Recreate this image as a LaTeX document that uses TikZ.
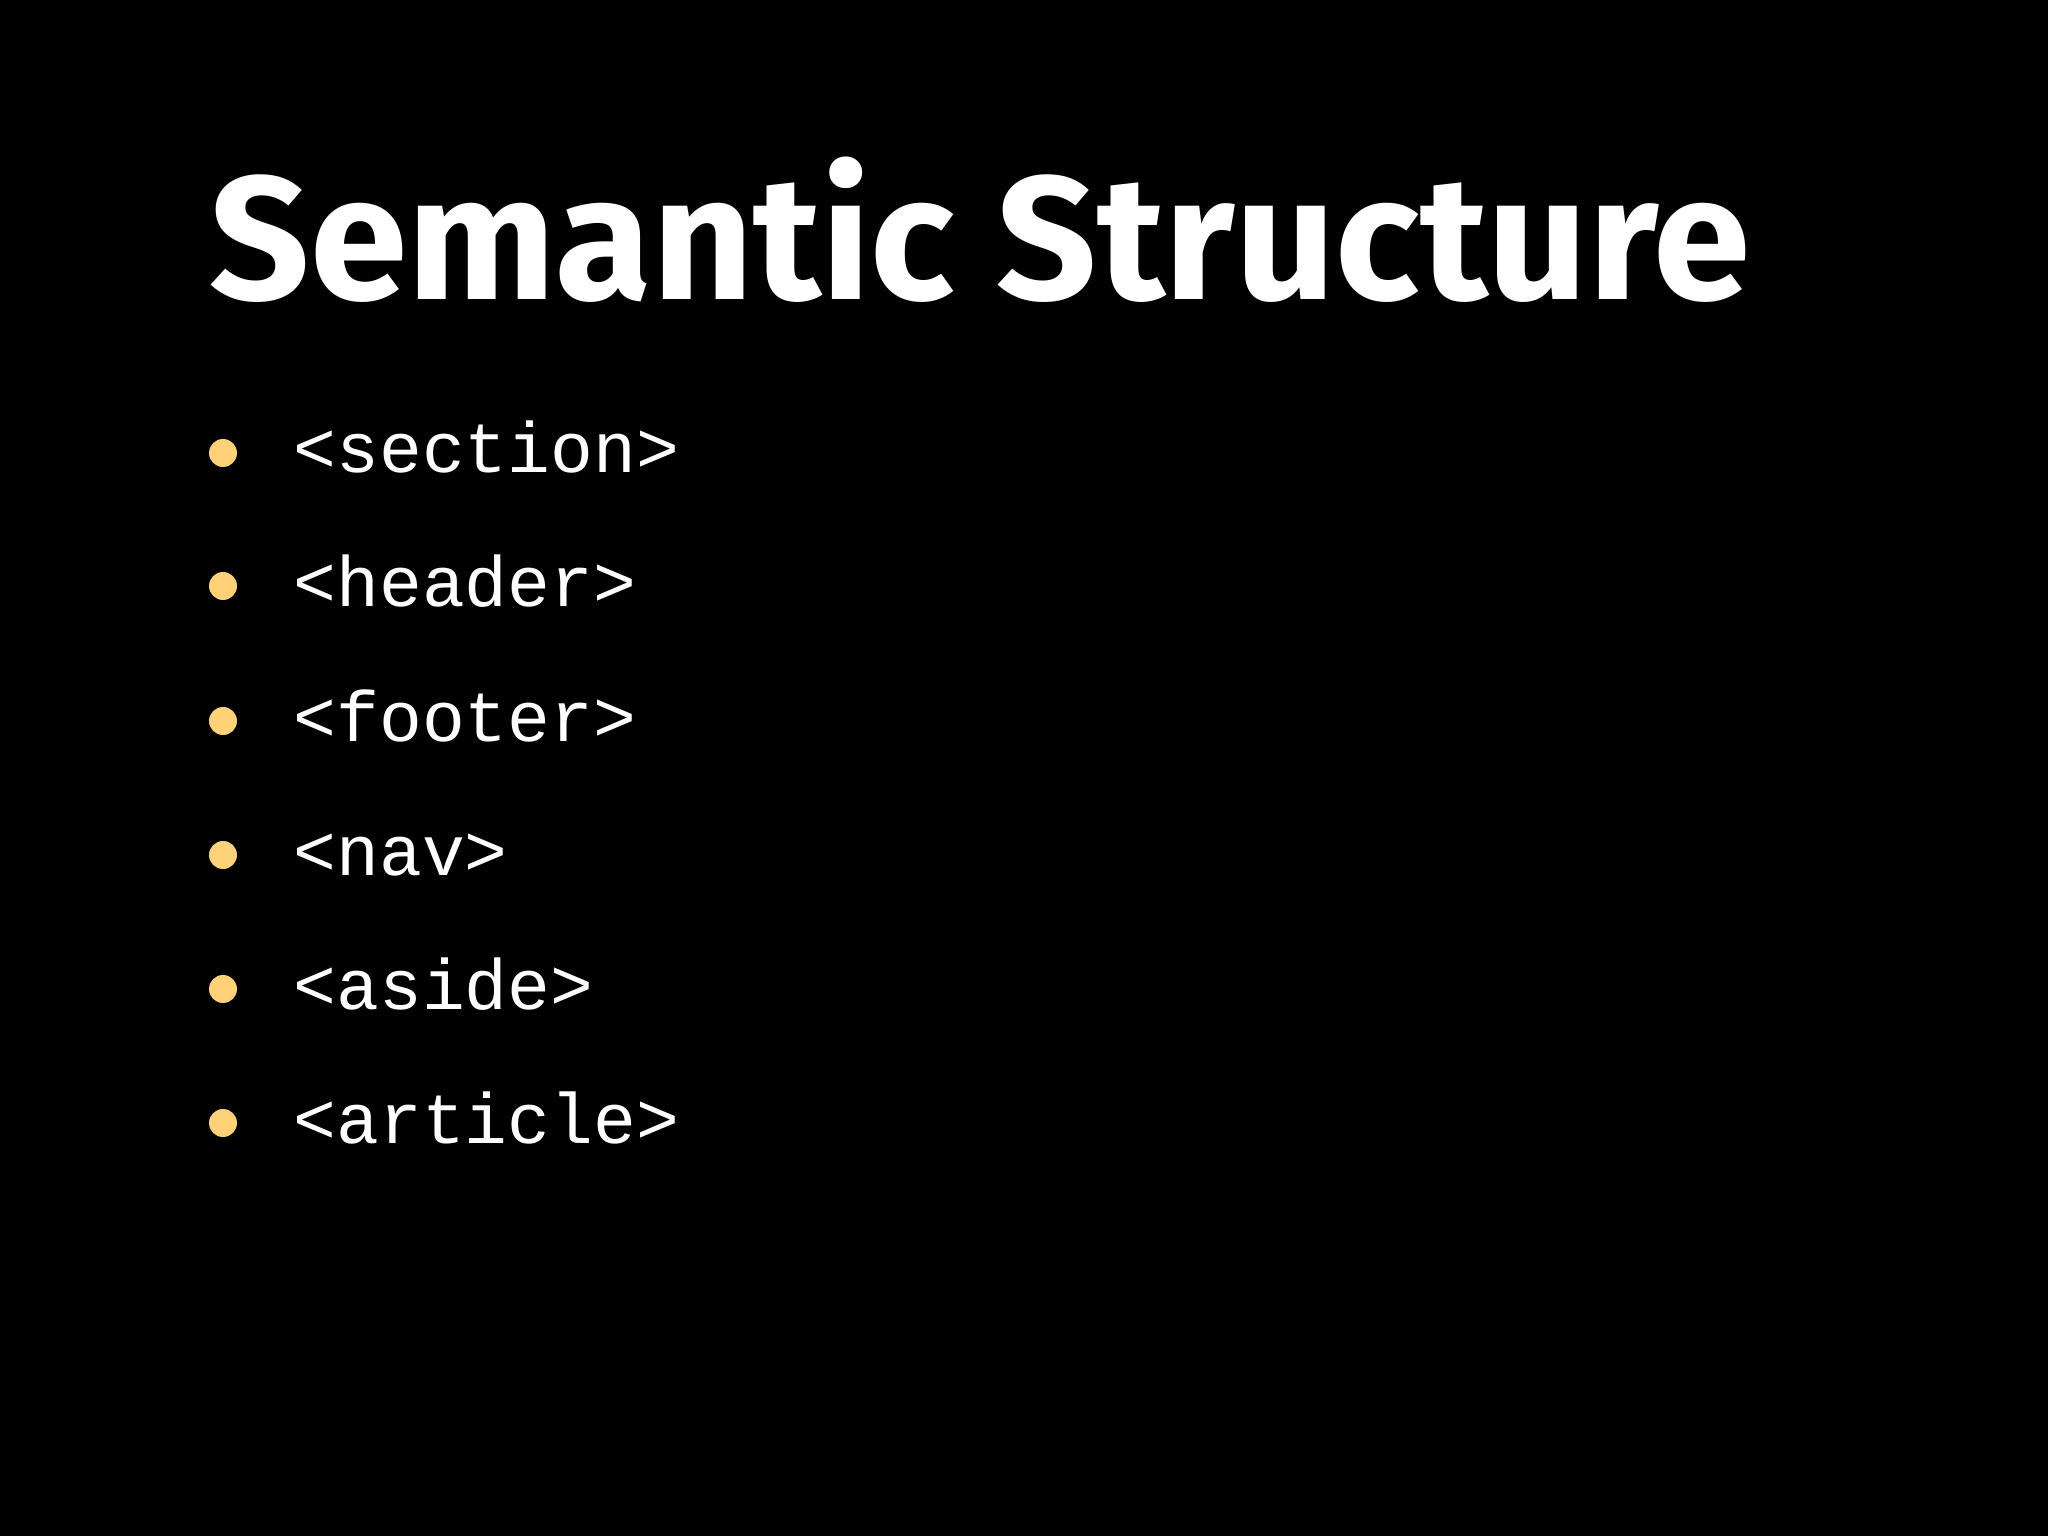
\documentclass[tikz,border=0pt]{standalone}
\usepackage{fontspec}
\setmainfont{Fira Sans}
\newfontfamily\monofont{Liberation Mono}
\definecolor{bul}{HTML}{FFD27A}
\begin{document}
\begin{tikzpicture}[
  item/.style={anchor=base west,text=white,inner sep=0pt,font=\monofont\fontsize{20.3pt}{24pt}\selectfont},
  dot/.style={circle,fill=bul,minimum size=0.28cm,inner sep=0pt}]
\fill[black] (0,0) rectangle (20.48,-15.36);
\useasboundingbox (0,0) rectangle (20.48,-15.36);
\node[anchor=base west,inner sep=0pt,text=white,font=\bfseries\fontsize{50pt}{60pt}\selectfont] (title) at (2.09,-3.00) {Semantic Structure};
\foreach \t/\y [count=\i] in {{<section>}/4.53,{<header>}/5.86,{<footer>}/7.21,{<nav>}/8.55,{<aside>}/9.89,{<article>}/11.23}{
  \node[dot] (b\i) at (2.23,-\y) {};
  \node[item] (t\i) at (2.93,-\y-0.20) {\t};
}
\end{tikzpicture}
\end{document}
